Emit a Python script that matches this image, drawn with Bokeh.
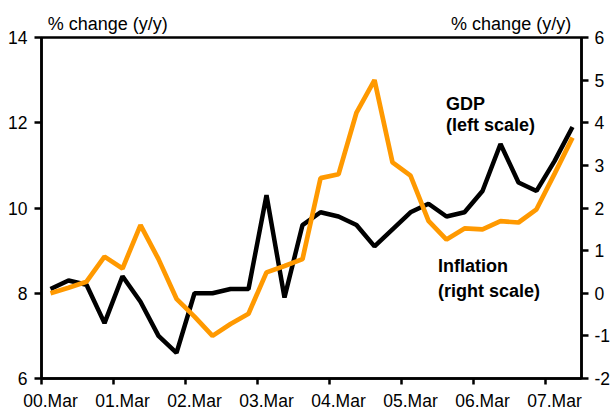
from bokeh.plotting import figure
from bokeh.models import Range1d, LinearAxis, FixedTicker, Label, CustomJSTickFormatter, ColumnDataSource
from bokeh.embed import file_html
from bokeh.resources import INLINE

# ---- data (quarterly, 00.Mar .. 07.Jun) ----
year_labels = ["00.Mar", "01.Mar", "02.Mar", "03.Mar", "04.Mar", "05.Mar", "06.Mar", "07.Mar"]
quarter_index = list(range(30))
gdp = [8.1, 8.3, 8.2, 7.3, 8.4, 7.8, 7.0, 6.6, 8.0, 8.0,
       8.1, 8.1, 10.3, 7.9, 9.6, 9.9, 9.8, 9.6, 9.1, 9.5,
       9.9, 10.1, 9.8, 9.9, 10.4, 11.5, 10.6, 10.4, 11.1, 11.9]
inflation = [0.0, 0.13, 0.27, 0.86, 0.58, 1.6, 0.8, -0.13, -0.55, -1.0,
             -0.72, -0.48, 0.49, 0.64, 0.8, 2.7, 2.79, 4.24, 5.0, 3.07,
             2.76, 1.7, 1.26, 1.52, 1.5, 1.69, 1.66, 1.97, 2.8, 3.65]
left_ticks = [6, 8, 10, 12, 14]
right_ticks = [-2, -1, 0, 1, 2, 3, 4, 5, 6]
unit_titles = ["% change (y/y)", "% change (y/y)"]

FONT = "Liberation Sans"
ORANGE = "#FF9900"
TICK_FS = "17.5px"

src = ColumnDataSource(dict(x=[i + 0.5 for i in quarter_index], gdp=gdp, inf=inflation))

p = figure(width=613, height=413, output_backend="svg", toolbar_location=None,
           x_range=Range1d(0, 30), y_range=Range1d(6, 14),
           min_border_left=41, min_border_right=30, min_border_top=37, min_border_bottom=35)
p.extra_y_ranges = {"right": Range1d(-2, 6)}
p.xgrid.visible = False
p.ygrid.visible = False
p.outline_line_color = "black"
p.outline_line_width = 2.5
p.background_fill_color = "white"
p.border_fill_color = "white"

def style_axis(ax):
    ax.axis_line_color = "black"
    ax.axis_line_width = 2.5
    ax.major_tick_line_color = "black"
    ax.major_tick_line_width = 2.5
    ax.major_label_text_font = FONT
    ax.major_label_text_font_size = TICK_FS
    ax.major_label_text_color = "black"

plain = CustomJSTickFormatter(code="return String(tick);")

# bottom axis: labels centred on the March quarter, ticks at year boundaries
xa = p.xaxis[0]
style_axis(xa)
xa.ticker = FixedTicker(ticks=[0.5 + 4 * k for k in range(len(year_labels))],
                        minor_ticks=[4 * k for k in range(len(year_labels))])
xa.formatter = CustomJSTickFormatter(args=dict(labels=year_labels),
                                     code="return labels[Math.round((tick - 0.5) / 4)];")
xa.major_tick_out = 0
xa.major_tick_in = 0
xa.minor_tick_out = 6
xa.minor_tick_in = 0
xa.minor_tick_line_color = "black"
xa.minor_tick_line_width = 2.5
xa.major_label_standoff = 6

# top axis carrying the unit titles
ta = LinearAxis()
ta.ticker = FixedTicker(ticks=[3.68, 26.09])
ta.formatter = CustomJSTickFormatter(args=dict(labels=unit_titles),
                                     code="return labels[tick < 15 ? 0 : 1];")
ta.axis_line_color = None
ta.major_tick_line_color = None
ta.minor_tick_line_color = None
ta.major_tick_out = 0
ta.major_tick_in = 0
ta.major_label_standoff = 4
ta.major_label_text_font = FONT
ta.major_label_text_font_size = "18px"
ta.major_label_text_color = "black"
p.add_layout(ta, "above")

# left axis
ya = p.yaxis[0]
style_axis(ya)
ya.ticker = FixedTicker(ticks=left_ticks)
ya.formatter = plain
ya.minor_tick_line_color = None
ya.major_tick_out = 7
ya.major_tick_in = 0
ya.major_label_standoff = 7

# right axis
ra = LinearAxis(y_range_name="right")
style_axis(ra)
ra.ticker = FixedTicker(ticks=right_ticks)
ra.formatter = plain
ra.minor_tick_line_color = None
ra.major_tick_out = 7
ra.major_tick_in = 0
ra.major_label_standoff = 6
p.add_layout(ra, "right")

# series
p.line("x", "gdp", source=src, line_color="black", line_width=4.5)
p.line("x", "inf", source=src, line_color=ORANGE, line_width=4.7, y_range_name="right")

# series labels
for txt, xx, yy in [("GDP", 22.47, 12.45), ("(left scale)", 22.47, 11.94),
                    ("Inflation", 22.03, 8.63), ("(right scale)", 22.03, 8.06)]:
    p.add_layout(Label(x=xx, y=yy, text=txt, text_font=FONT, text_font_size="18px",
                       text_font_style="bold", text_color="black",
                       text_align="left", text_baseline="alphabetic"))

open("out.html", "w").write(file_html(p, INLINE))
